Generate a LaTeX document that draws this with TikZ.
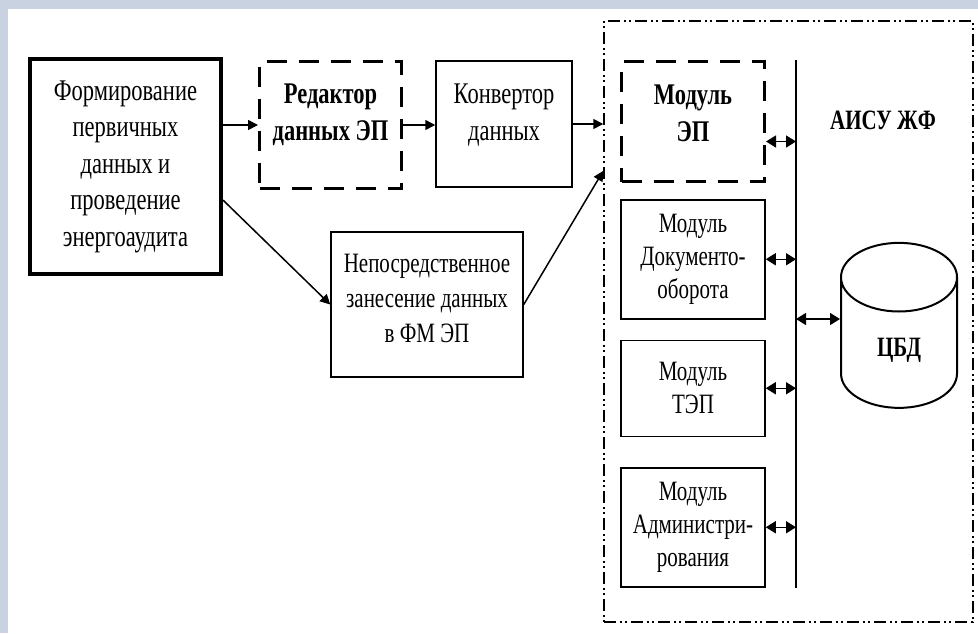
\documentclass[tikz,border=0pt]{standalone}
\usepackage{fontspec}
\setmainfont[FakeStretch=0.75]{Liberation Serif}
\usepackage{tikz}
\usetikzlibrary{positioning,shapes.geometric,arrows.meta,calc}
\definecolor{slidebg}{RGB}{200,210,224}
\newcommand{\blkfont}{\fontsize{15}{18.25}\selectfont}
\newcommand{\modfnt}{\fontsize{14}{16.5}\selectfont}
\tikzstyle{block}=[rectangle, draw=black, line width=0.75pt, text centered, align=center,
        font=\blkfont, inner sep=0pt]
\tikzstyle{thickblock}=[block, line width=2pt]
\tikzstyle{dashblock}=[block, line width=1.5pt, dash pattern=on 10pt off 6pt]
\tikzstyle{module}=[block, font=\modfnt, minimum width=72pt]
\tikzstyle{frame}=[rectangle, draw=black, line width=0.75pt,
        dash pattern=on 6pt off 2pt on 1pt off 1.5pt on 1pt off 2pt]
\tikzstyle{inlabel}=[align=center, font=\blkfont]
\tikzstyle{database}=[cylinder, shape border rotate=90, aspect=1.2, draw=black, line width=1pt,
        minimum width=58pt, minimum height=82.5pt, font=\fontsize{14}{16}\selectfont\bfseries]
\tikzstyle{myarrow}=[-{Triangle[length=5pt,width=5pt]}, line width=0.75pt]
\tikzstyle{busarrow}=[{Triangle[length=5pt,width=6pt]}-{Triangle[length=5pt,width=6pt]}, line width=0.75pt]
\begin{document}
\begin{tikzpicture}[x=0.5pt, y=-0.5pt]

	\fill[slidebg] (0,0) rectangle (978,633);
	\fill[white] (8,9) rectangle (978,633);
	\useasboundingbox (0,0) rectangle (978,633);

	\node (former) [thickblock, minimum width=95.5pt, minimum height=107.5pt] at (125.5,166.5)
        {Формирование\\первичных\\данных и\\проведение\\энергоаудита};

	\node (editor) [dashblock, minimum width=71pt, minimum height=63.5pt,
        label={[inlabel, font=\blkfont\bfseries, yshift=5pt]center:{Редактор\\данных ЭП}}] at (330.5,125) {};

	\node (conv) [block, minimum width=68pt, minimum height=63pt,
        label={[inlabel, yshift=4.5pt]center:{Конвертор\\данных}}] at (504,124) {};

	\node (direct) [block, minimum width=96pt, minimum height=72.5pt,
        label={[inlabel, font=\fontsize{14}{17.5}\selectfont, yshift=3pt]center:{Непосредственное\\занесение данных\\в ФМ ЭП}}] at (427,304.5) {};

	% АИСУ ЖФ
	\node (aisubox) [frame, minimum width=184.5pt, minimum height=300.5pt] at (788.5,321.5) {};
	\node (aisu) [font=\fontsize{14}{16}\selectfont\bfseries] at (883,120) {АИСУ ЖФ};

	\node (modep) [dashblock, minimum width=71.5pt, minimum height=60pt,
        label={[inlabel, font=\blkfont\bfseries, yshift=4pt]center:{Модуль\\ЭП}}] at (693,121.5) {};
	\node (moddoc) [module, minimum height=59.5pt, below=8pt of modep] {Модуль\\Документо-\\оборота};
	\node (modtep) [module, minimum height=48pt, below=10pt of moddoc] {Модуль\\ТЭП};
	\node (modadm) [module, minimum height=59.5pt, below=15pt of modtep] {Модуль\\Администри-\\рования};

	\node (cbd) [database] at (899,351) {\raisebox{-2.5pt}[0pt][0pt]{ЦБД}};

	\coordinate (bustop) at ([xshift=15pt]modep.north east);
	\coordinate (busbot) at (bustop |- modadm.south);
	\coordinate (entry) at ($(aisubox.north west)!0.25!(aisubox.south west)$);

\draw[myarrow] (former.east |- editor.west) -- (editor.west);
\draw[myarrow] (editor.east) -- (editor.east -| conv.west);
\draw[myarrow] (conv.east) -- (conv.east -| aisubox.west);
\draw[myarrow] (former.-19) -- (direct.west);
\draw[myarrow] (direct.east) -- (entry);

\draw[line width=0.75pt] (bustop) -- (busbot);
\draw[busarrow] ([yshift=-10pt]modep.east) -- ([yshift=-10pt]modep.east -| bustop);
\draw[busarrow] (moddoc.east) -- (moddoc.east -| bustop);
\draw[busarrow] (modtep.east) -- (modtep.east -| bustop);
\draw[busarrow] (modadm.east) -- (modadm.east -| bustop);
\draw[busarrow] ([yshift=16pt]cbd.west -| bustop) -- ([yshift=16pt]cbd.west);

\end{tikzpicture}
\end{document}
